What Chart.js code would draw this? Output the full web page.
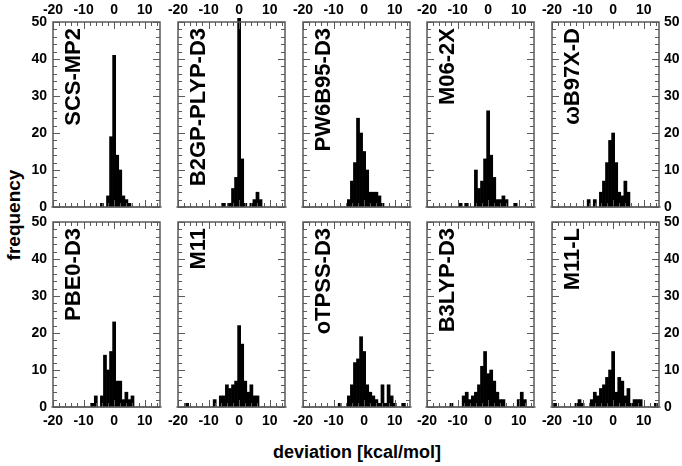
<!DOCTYPE html>
<html>
<head>
<meta charset="utf-8">
<script src="https://cdn.jsdelivr.net/npm/chart.js@4.4.0/dist/chart.umd.min.js"></script>
<style>
  body { margin: 0; background: #fff; }
  #wrap { position: relative; width: 682px; height: 466px; overflow: hidden; font-family: "Liberation Sans", Arial, sans-serif; }
  #wrap canvas { position: absolute; }
  .lab { position: absolute; font-weight: bold; white-space: nowrap; color: #000; }
  #ylab { font-size: 19px; left: 14px; top: 215px; transform: translate(-50%, -50%) rotate(-90deg); }
  #xlab { font-size: 18px; left: 357px; top: 452px; transform: translate(-50%, -50%); }
</style>
</head>
<body>
<div id="wrap">
  <div class="lab" id="ylab">frequency</div>
  <div class="lab" id="xlab">deviation [kcal/mol]</div>
</div>
<script>
// histogram bins (kcal/mol), one count per bin
const bins = [-20,-19,-18,-17,-16,-15,-14,-13,-12,-11,
              -10,-9,-8,-7,-6,-5,-4,-3,-2,-1,
              0,1,2,3,4,5,6,7,8,9,
              10,11,12,13,14,15];

const methods = ['SCS-MP2', 'B2GP-PLYP-D3', 'PW6B95-D3', 'M06-2X', 'ωB97X-D',
                 'PBE0-D3', 'M11', 'oTPSS-D3', 'B3LYP-D3', 'M11-L'];

//              -20 .. -11            -10 .. -1                 0 .. 9                   10 .. 15
const scsMP2  = [0,0,0,0,0,0,0,0,0,0, 0,0,0,0,0,0,1,0,3,19,     41,14,10,3,2,1,0,0,0,0,  0,0,0,0,0,0];
const b2gp    = [0,0,0,0,0,0,0,0,0,0, 0,0,0,0,0,1,0,1,5,8,      51,13,1,0,1,2,4,2,0,0,   0,0,0,0,0,0];
const pw6b95  = [0,0,0,0,0,0,0,0,0,0, 0,0,0,0,0,2,7,12,24,20,   15,10,4,4,4,3,1,0,0,0,   0,0,0,0,0,0];
const m062x   = [0,0,0,0,0,0,0,0,0,0, 0,1,0,1,0,0,10,5,7,13,    26,14,8,2,2,3,2,0,0,1,   0,0,0,0,0,0];
const wb97xd  = [0,0,0,0,0,0,0,0,0,0, 0,0,2,0,2,0,4,7,12,18,    20,12,4,3,7,4,0,0,0,0,   0,0,0,0,0,0];
const pbe0    = [0,0,0,0,0,0,0,0,0,0, 0,0,0,1,3,0,3,14,10,15,   23,7,7,2,4,2,3,0,0,0,    0,0,0,0,0,0];
const m11     = [0,0,0,1,0,0,0,0,0,0, 0,0,2,0,3,3,6,5,6,7,      22,17,7,4,6,3,3,0,0,0,   0,0,0,0,0,0];
const otpss   = [0,0,0,0,0,0,0,0,0,0, 0,0,1,0,0,3,6,12,13,19,   15,6,4,3,2,1,6,1,6,3,    1,0,0,1,0,0];
const b3lyp   = [0,0,0,0,0,0,0,0,1,0, 0,0,3,4,2,3,4,6,11,15,    9,10,7,4,2,2,0,0,0,0,    2,4,2,0,0,0];
const m11l    = [0,1,0,0,0,0,0,0,1,2, 1,0,0,2,4,3,5,6,8,10,     15,4,8,7,3,5,1,2,2,2,    0,0,0,0,1,0];

const counts = [scsMP2, b2gp, pw6b95, m062x, wb97xd, pbe0, m11, otpss, b3lyp, m11l];

const xTicks = [-20, -10, 0, 10];
const yTicks = [0, 10, 20, 30, 40, 50];

// panel geometry
const colX = [53, 178, 302.5, 427, 552];
const rowY = [22, 222];
const panelW = 107, panelH = 185, M = 40;

const frameTicks = {
  id: 'frameTicks',
  afterDatasetsDraw(chart, args, opts) {
    const { ctx, chartArea: a, scales: { x, y } } = chart;
    ctx.save();
    ctx.strokeStyle = '#5a5a5a';
    ctx.lineWidth = 1;
    ctx.beginPath();
    for (let v = -20; v <= 15; v += 2) {
      const px = Math.round(x.getPixelForValue(v)) + 0.5;
      const len = v % 10 === 0 ? 7 : 4;
      ctx.moveTo(px, a.bottom); ctx.lineTo(px, a.bottom - len);
      ctx.moveTo(px, a.top); ctx.lineTo(px, a.top + len);
    }
    for (let v = 0; v <= 50; v += 2) {
      const py = Math.round(y.getPixelForValue(v)) + 0.5;
      const len = v % 10 === 0 ? 7 : 4;
      ctx.moveTo(a.left, py); ctx.lineTo(a.left + len, py);
      ctx.moveTo(a.right, py); ctx.lineTo(a.right - len, py);
    }
    ctx.stroke();
    ctx.lineWidth = 1.5;
    ctx.strokeRect(a.left, a.top, a.right - a.left, a.bottom - a.top);

    ctx.fillStyle = '#000';
    ctx.font = 'bold 14px "Liberation Sans", Arial, sans-serif';
    ctx.textAlign = 'center';
    ctx.textBaseline = 'middle';
    xTicks.forEach(v => {
      const px = x.getPixelForValue(v);
      const py = opts.row === 0 ? a.top - 12 : a.bottom + 14;
      ctx.fillText(String(v), px, py);
    });
    if (opts.col === 0 || opts.col === 4) {
      ctx.textAlign = opts.col === 0 ? 'right' : 'left';
      yTicks.forEach(v => {
        const py = y.getPixelForValue(v);
        const px = opts.col === 0 ? a.left - 6 : a.right + 5;
        ctx.fillText(String(v), px, py);
      });
    }

    // rotated method name
    ctx.translate(a.left + 27, a.top + 6);
    ctx.rotate(-Math.PI / 2);
    ctx.font = 'bold 22px "Liberation Sans", Arial, sans-serif';
    ctx.textAlign = 'right';
    ctx.textBaseline = 'alphabetic';
    ctx.fillText(opts.title, 0, 0);
    ctx.restore();
  }
};

const wrap = document.getElementById('wrap');

methods.forEach((name, i) => {
  const row = Math.floor(i / 5), col = i % 5;
  const cv = document.createElement('canvas');
  cv.width = panelW + 2 * M;
  cv.height = panelH + 2 * M;
  cv.style.left = (colX[col] - M) + 'px';
  cv.style.top = (rowY[row] - M) + 'px';
  cv.style.width = cv.width + 'px';
  cv.style.height = cv.height + 'px';
  wrap.appendChild(cv);

  new Chart(cv.getContext('2d'), {
    type: 'bar',
    data: {
      datasets: [{
        data: bins.map((b, k) => ({ x: b, y: counts[i][k] })),
        backgroundColor: '#000',
        borderWidth: 0,
        barPercentage: 1,
        categoryPercentage: 1,
        clip: false
      }]
    },
    options: {
      responsive: false,
      animation: false,
      layout: { padding: M },
      scales: {
        x: { type: 'linear', min: -20, max: 15, offset: false, display: false },
        y: { min: 0, max: 50, display: false }
      },
      plugins: {
        legend: { display: false },
        tooltip: { enabled: false },
        frameTicks: { row: row, col: col, title: name }
      }
    },
    plugins: [frameTicks]
  });
});
</script>
</body>
</html>
